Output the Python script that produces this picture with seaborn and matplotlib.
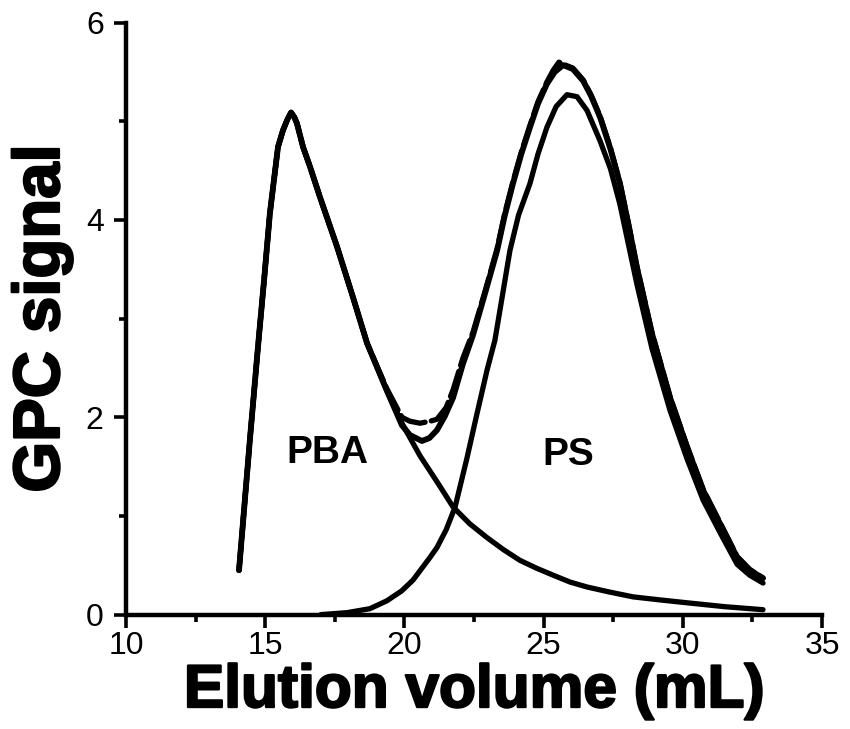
import matplotlib
matplotlib.use("Agg")
import matplotlib.pyplot as plt
import matplotlib.patheffects as pe
from matplotlib.ticker import MultipleLocator
import seaborn as sns

# Deconvoluted PBA block (elution volume in mL, GPC signal)
pba_volume = [14.06, 14.45, 14.74, 14.96, 15.17, 15.46, 15.64, 15.80, 15.93, 16.05,
              16.14, 16.36, 16.61, 16.97, 17.58, 18.15, 18.66, 19.37, 19.91, 20.56,
              21.21, 21.75, 22.35, 22.97, 23.55, 24.15, 24.75, 25.34, 25.95, 26.56,
              27.35, 28.21, 29.15, 30.15, 31.52, 32.88]
pba_signal = [0.45, 1.77, 2.71, 3.39, 4.07, 4.74, 4.91, 5.02, 5.09, 5.04,
              4.98, 4.74, 4.54, 4.23, 3.73, 3.22, 2.75, 2.27, 1.94, 1.61,
              1.33, 1.09, 0.92, 0.78, 0.66, 0.55, 0.47, 0.40, 0.33, 0.28,
              0.23, 0.18, 0.15, 0.12, 0.08, 0.05]

# Deconvoluted PS block
ps_volume = [17.00, 17.94, 18.76, 19.37, 19.90, 20.31, 20.92, 21.17, 21.50, 21.82,
             22.25, 22.61, 22.97, 23.25, 23.50, 23.79, 24.10, 24.51, 24.80, 25.12,
             25.45, 25.84, 26.20, 26.56, 27.03, 27.40, 27.74, 28.35, 28.89, 29.54,
             30.15, 30.73, 31.34, 31.95, 32.40, 32.88]
ps_signal = [0.00, 0.02, 0.06, 0.14, 0.24, 0.35, 0.58, 0.68, 0.86, 1.09,
             1.59, 2.04, 2.48, 2.78, 3.20, 3.69, 4.05, 4.37, 4.67, 4.94,
             5.15, 5.27, 5.25, 5.11, 4.80, 4.52, 4.16, 3.35, 2.70, 2.07,
             1.58, 1.16, 0.83, 0.51, 0.40, 0.32]

# Sum of the two fitted components
fit_volume = [14.06, 14.45, 14.74, 14.96, 15.17, 15.46, 15.64, 15.80, 15.93, 16.05,
              16.14, 16.36, 16.61, 16.97, 17.58, 18.15, 18.66, 19.37, 19.91, 20.20,
              20.63, 20.90, 21.17, 21.45, 21.75, 22.10, 22.46, 22.90, 23.33, 23.60,
              23.90, 24.20, 24.51, 24.80, 25.12, 25.40, 25.70, 26.05, 26.42, 26.70,
              27.03, 27.40, 27.74, 28.05, 28.35, 28.89, 29.54, 30.15, 30.73, 31.34,
              31.95, 32.40, 32.88]
fit_signal = [0.45, 1.77, 2.71, 3.39, 4.07, 4.74, 4.91, 5.02, 5.09, 5.04,
              4.98, 4.74, 4.54, 4.23, 3.73, 3.22, 2.75, 2.27, 1.92, 1.82,
              1.76, 1.79, 1.87, 2.01, 2.20, 2.54, 2.83, 3.26, 3.69, 4.04,
              4.37, 4.67, 4.94, 5.18, 5.38, 5.50, 5.57, 5.53, 5.41, 5.26,
              5.04, 4.72, 4.37, 3.95, 3.52, 2.85, 2.20, 1.70, 1.26, 0.92,
              0.58, 0.45, 0.37]

# Measured GPC trace of the block copolymer
meas_volume = [14.06, 14.45, 14.74, 14.96, 15.17, 15.46, 15.64, 15.80, 15.93, 16.05,
               16.14, 16.36, 16.61, 16.97, 17.58, 18.15, 18.66, 19.37, 19.91, 20.20,
               20.56, 20.92, 21.17, 21.50, 21.75, 22.10, 22.46, 22.90, 23.33, 23.60,
               23.90, 24.20, 24.51, 24.80, 25.12, 25.35, 25.55, 25.70, 26.05, 26.42,
               26.70, 27.03, 27.40, 27.74, 28.05, 28.35, 28.89, 29.54, 30.15, 30.73,
               31.34, 31.95, 32.40, 32.88]
meas_signal = [0.45, 1.77, 2.71, 3.39, 4.07, 4.74, 4.91, 5.02, 5.09, 5.04,
               4.98, 4.74, 4.54, 4.23, 3.73, 3.22, 2.75, 2.29, 2.00, 1.96,
               1.94, 1.96, 1.98, 2.10, 2.28, 2.60, 2.86, 3.28, 3.71, 4.06,
               4.39, 4.69, 4.96, 5.20, 5.40, 5.52, 5.60, 5.58, 5.54, 5.42,
               5.27, 5.05, 4.73, 4.38, 3.96, 3.53, 2.86, 2.21, 1.71, 1.27,
               0.93, 0.59, 0.46, 0.37]

x_ticks = [10, 15, 20, 25, 30, 35]
y_ticks = [0, 2, 4, 6]
peak_labels = ["PBA", "PS"]
label_volume = [17.22, 25.88]
label_signal = [1.64, 1.62]

sns.set_theme(style="ticks")
plt.rcParams["font.family"] = ["Liberation Sans", "DejaVu Sans"]

fig = plt.figure(figsize=(8.5, 7.29), dpi=100)
ax = fig.add_axes([0.1482, 0.1569, 0.8189, 0.812])

ink = "black"
common = dict(ax=ax, color=ink, estimator=None, sort=False, legend=False)

sns.lineplot(x=meas_volume, y=meas_signal, linewidth=3.8, linestyle=(0, (5, 1.2)),
             dash_capstyle="round", **common)
sns.lineplot(x=fit_volume, y=fit_signal, linewidth=4.2, solid_capstyle="round",
             solid_joinstyle="round", **common)
sns.lineplot(x=pba_volume, y=pba_signal, linewidth=3.8, solid_capstyle="round",
             solid_joinstyle="round", **common)
sns.lineplot(x=ps_volume, y=ps_signal, linewidth=3.8, solid_capstyle="round",
             solid_joinstyle="round", **common)

for name, xv, yv in zip(peak_labels, label_volume, label_signal):
    ax.text(xv, yv, name, ha="center", va="center", fontsize=28,
            fontweight="bold", color=ink)

ax.set_xlim(10, 35)
ax.set_ylim(0, 6)
ax.set_xticks(x_ticks)
ax.set_yticks(y_ticks)
ax.xaxis.set_minor_locator(MultipleLocator(2.5))
ax.yaxis.set_minor_locator(MultipleLocator(1))

for side in ("top", "right"):
    ax.spines[side].set_visible(False)
for side in ("left", "bottom"):
    ax.spines[side].set_linewidth(3.2)
    ax.spines[side].set_color(ink)

ax.tick_params(which="major", length=9, width=2.6, color=ink, labelsize=23,
               labelcolor=ink)
ax.tick_params(axis="y", which="major", pad=7)
ax.tick_params(axis="x", which="major", pad=3)
ax.tick_params(which="minor", length=5, width=2.6, color=ink)
ax.patch.set_alpha(0)

heavy = [pe.withStroke(linewidth=1.6, foreground=ink)]
ax.set_xlabel("Elution volume (mL)", fontsize=43.5, fontweight="bold", color=ink,
              labelpad=2, path_effects=heavy)
ax.set_ylabel("GPC signal", fontsize=47, fontweight="bold", color=ink,
              labelpad=10, path_effects=heavy)

fig.savefig("out.png", dpi=100, facecolor="white")
